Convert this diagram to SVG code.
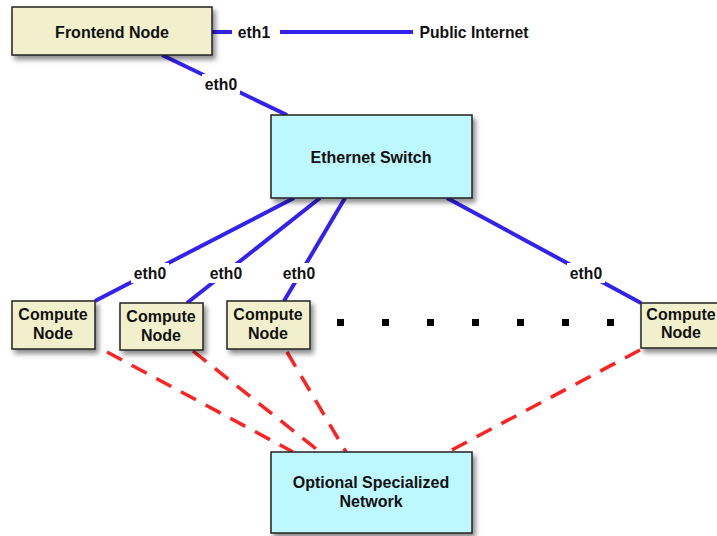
<svg xmlns="http://www.w3.org/2000/svg" width="717" height="536" viewBox="0 0 717 536">
<defs>
<filter id="sh" x="-20%" y="-20%" width="140%" height="150%">
<feDropShadow dx="3" dy="4" stdDeviation="2.5" flood-color="#000" flood-opacity="0.45"/>
</filter>
</defs>
<style>
.node{stroke:#222;stroke-width:1.5;filter:url(#sh)}
.yel{fill:#f2f0cc}
.cy{fill:#bdf7ff}
text{font-family:"Liberation Sans",Arial,sans-serif;font-weight:bold;font-size:16px;fill:#111;text-anchor:middle}
.lbl{font-size:15.7px}
.blue{stroke:#3322ee;stroke-width:4;fill:none}
.red{stroke:#ff2222;stroke-width:3.5;fill:none;stroke-dasharray:17 11}
.bg{fill:#fff}
.dot{fill:#000}
</style>
<rect width="717" height="536" fill="#fff"/>
<g id="connectors">
<line class="blue" x1="212" y1="32" x2="232" y2="32"/>
<line class="blue" x1="280" y1="32" x2="413" y2="32"/>
<line class="blue" x1="162" y1="55" x2="287" y2="115"/>
<line class="blue" x1="294" y1="198" x2="95" y2="301"/>
<line class="blue" x1="320" y1="198" x2="187" y2="303"/>
<line class="blue" x1="345" y1="198" x2="284" y2="301"/>
<line class="blue" x1="447" y1="198" x2="641" y2="303"/>
<line class="red" x1="107" y1="352" x2="293" y2="452"/>
<line class="red" x1="193" y1="351" x2="320" y2="452"/>
<line class="red" x1="287" y1="352" x2="346" y2="452"/>
<line class="red" x1="640" y1="350" x2="448" y2="452"/>
<rect class="bg" x="202" y="74" width="38" height="20"/>
<rect class="bg" x="131" y="263" width="38" height="20"/>
<rect class="bg" x="207" y="263" width="38" height="20"/>
<rect class="bg" x="280" y="263" width="38" height="20"/>
<rect class="bg" x="567" y="263" width="38" height="20"/>
<text class="lbl" x="254" y="38">eth1</text>
<text class="lbl" x="474" y="38">Public Internet</text>
<text class="lbl" x="221" y="90">eth0</text>
<text class="lbl" x="150" y="279">eth0</text>
<text class="lbl" x="226" y="279">eth0</text>
<text class="lbl" x="299" y="279">eth0</text>
<text class="lbl" x="586" y="279">eth0</text>
</g>
<g id="frontend">
<rect class="node yel" x="12" y="7" width="200" height="48"/>
<text x="112" y="38">Frontend Node</text>
</g>
<g id="switch">
<rect class="node cy" x="271" y="115" width="201" height="83"/>
<text x="371" y="163">Ethernet Switch</text>
</g>
<g id="compute1">
<rect class="node yel" x="12" y="301" width="83" height="48"/>
<text x="53" y="320">Compute</text>
<text x="53" y="339">Node</text>
</g>
<g id="compute2">
<rect class="node yel" x="120" y="303" width="83" height="47"/>
<text x="161" y="322">Compute</text>
<text x="161" y="341">Node</text>
</g>
<g id="compute3">
<rect class="node yel" x="227" y="301" width="83" height="48"/>
<text x="268" y="320">Compute</text>
<text x="268" y="339">Node</text>
</g>
<g id="compute4">
<rect class="node yel" x="641" y="303" width="83" height="45"/>
<text x="681" y="320">Compute</text>
<text x="681" y="338">Node</text>
</g>
<g id="dots">
<rect class="dot" x="337" y="319" width="7" height="7"/>
<rect class="dot" x="382" y="319" width="7" height="7"/>
<rect class="dot" x="427" y="319" width="7" height="7"/>
<rect class="dot" x="472" y="319" width="7" height="7"/>
<rect class="dot" x="517" y="319" width="7" height="7"/>
<rect class="dot" x="562" y="319" width="7" height="7"/>
<rect class="dot" x="607" y="319" width="7" height="7"/>
</g>
<g id="optional">
<rect class="node cy" x="271" y="452" width="201" height="81"/>
<text x="371" y="488">Optional Specialized</text>
<text x="371" y="507">Network</text>
</g>
</svg>
